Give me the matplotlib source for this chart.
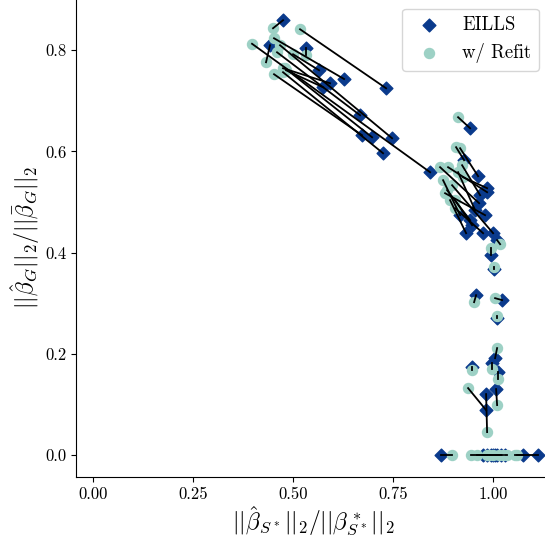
import matplotlib
matplotlib.use("Agg")
import matplotlib.pyplot as plt

plt.rcParams["font.family"] = "serif"
plt.rcParams["font.serif"] = ["cmr10", "DejaVu Serif"]
plt.rcParams["mathtext.fontset"] = "cm"
plt.rcParams["axes.formatter.use_mathtext"] = True

# EILLS estimates and the refitted estimates (paired by index)
eills_x = [0.475, 0.7325, 0.8425, 0.6275, 0.4425, 0.5325, 0.565, 0.5925, 0.575, 0.6675,
           0.6725, 0.6975, 0.7475, 0.725,
           0.9425, 0.9275, 0.9625, 0.985, 0.985, 0.965, 0.98, 0.9325, 0.975, 1.0,
           0.9425, 0.955, 0.9175, 1.01, 0.995, 1.0025, 0.9675, 0.9475,
           0.9575, 1.0225, 1.01, 1.005, 0.9475, 0.9975, 1.0125, 0.9825, 0.9825, 1.0075,
           0.87, 1.113, 1.075, 0.985, 0.995, 1.0, 1.005, 1.01, 1.02, 1.03, 0.975]
eills_y = [0.8593, 0.7249, 0.559, 0.7432, 0.8099, 0.804, 0.7605, 0.7348, 0.7269, 0.6716,
           0.6321, 0.6281, 0.6261, 0.5965,
           0.6459, 0.5827, 0.5511, 0.5274, 0.5195, 0.4978, 0.4741, 0.4385, 0.4385, 0.4385,
           0.4642, 0.484, 0.4741, 0.4247, 0.3951, 0.3674, 0.5136, 0.4543,
           0.316, 0.3062, 0.2706, 0.1916, 0.1738, 0.1817, 0.164, 0.0889, 0.1205, 0.1304,
           0, 0, 0, 0, 0, 0, 0, 0, 0, 0, 0]
refit_x = [0.45, 0.5175, 0.3975, 0.4525, 0.4325, 0.5325, 0.5, 0.475, 0.4825, 0.46,
           0.4525, 0.48, 0.4675, 0.475,
           0.9125, 0.9075, 0.9175, 0.925, 0.8875, 0.8675, 0.88, 0.8925, 0.905, 0.8975,
           0.885, 0.9125, 0.875, 1.0175, 0.995, 1.0025, 0.9225, 0.905,
           0.9525, 1.005, 1.01, 1.01, 0.9475, 0.9975, 1.0125, 0.9375, 0.985, 1.01,
           0.897, 1.06, 1.055, 0.945, 0.99, 0.96, 1.015, 1.025, 1.0, 1.035, 0.985]
refit_y = [0.8435, 0.8415, 0.8128, 0.8237, 0.7763, 0.7901, 0.7921, 0.7645, 0.7605, 0.796,
           0.7526, 0.7645, 0.8099, 0.7566,
           0.6677, 0.6084, 0.6064, 0.5491, 0.5689, 0.5689, 0.5175, 0.5037, 0.4879, 0.5333,
           0.5235, 0.559, 0.5432, 0.4168, 0.4089, 0.3714, 0.5728, 0.5037,
           0.3022, 0.3101, 0.2746, 0.2114, 0.1679, 0.1699, 0.1501, 0.1323, 0.0454, 0.0988,
           0, 0, 0, 0, 0, 0, 0, 0, 0, 0, 0]

fig = plt.figure(figsize=(5.45, 5.44), dpi=100)
ax = fig.add_axes([0.1394, 0.123, 0.870, 0.882])

ax.scatter(eills_x, eills_y, marker="D", s=42, color="#0a3a8c", label="EILLS", zorder=2)
ax.scatter(refit_x, refit_y, marker="o", s=52, color="#9dd1c5", label="w/ Refit", zorder=3)
for x0, y0, x1, y1 in zip(eills_x, eills_y, refit_x, refit_y):
    ax.plot([x0, x1], [y0, y1], color="k", lw=1.3, zorder=4)

ax.set_xlim(-0.0425, 1.1425)
ax.set_ylim(-0.0435, 0.9047)
ax.set_xticks([0.0, 0.25, 0.5, 0.75, 1.0])
ax.set_xticklabels(["0.00", "0.25", "0.50", "0.75", "1.00"])
ax.set_yticks([0.0, 0.2, 0.4, 0.6, 0.8])
ax.set_yticklabels(["0.0", "0.2", "0.4", "0.6", "0.8"])
ax.tick_params(labelsize=12)
ax.spines["top"].set_visible(False)
ax.spines["right"].set_visible(False)

ax.set_xlabel(r"$||\hat{\beta}_{S^*}||_2/||\beta^*_{S^*}||_2$", fontsize=17, labelpad=2)
ax.set_ylabel(r"$||\hat{\beta}_G||_2/||\bar{\beta}_G||_2$", fontsize=17, labelpad=2)

ax.legend(loc="upper right", fontsize=13.5, borderaxespad=0.6)

plt.savefig("out.png", dpi=100)
